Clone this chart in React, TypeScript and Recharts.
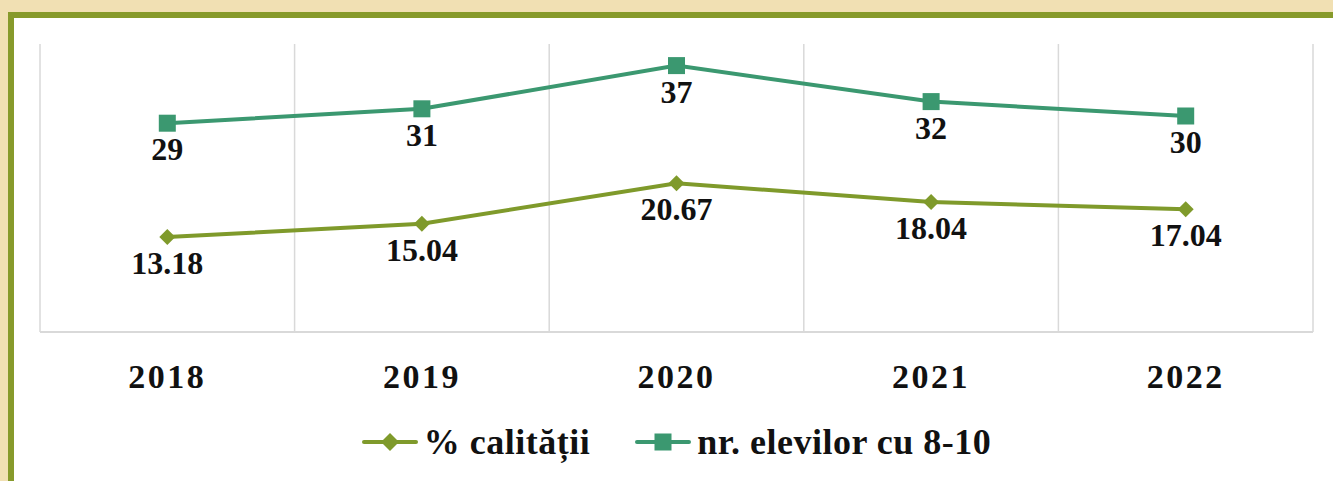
import { CartesianGrid, ComposedChart, Legend, Line, XAxis, YAxis } from "recharts";

const years = ["2018", "2019", "2020", "2021", "2022"];
const calitate = [13.18, 15.04, 20.67, 18.04, 17.04];
const elevi = [29, 31, 37, 32, 30];

const data = years.map((year, i) => ({ year, calitate: calitate[i], elevi: elevi[i] }));

const OLIVE = "#7f9a2b";
const TEAL = "#3b9870";
const FONT = "'Liberation Serif', 'Times New Roman', serif";

function Diamond({ cx, cy }: { cx?: number; cy?: number }) {
  if (cx == null || cy == null) return null;
  const r = 8;
  return <path d={`M${cx} ${cy - r}L${cx + r} ${cy}L${cx} ${cy + r}L${cx - r} ${cy}Z`} fill={OLIVE} />;
}

function Square({ cx, cy }: { cx?: number; cy?: number }) {
  if (cx == null || cy == null) return null;
  return <rect x={cx - 8.5} y={cy - 8.5} width={17} height={17} fill={TEAL} />;
}

function PointLabel(props: any) {
  const { x, y, value } = props;
  return (
    <text x={x} y={y + 26} textAnchor="middle" dominantBaseline="central" fontFamily={FONT} fontWeight="bold" fontSize={32} fill="#111">
      {value}
    </text>
  );
}

function YearTick(props: any) {
  const { x, y, payload } = props;
  return (
    <text x={x} y={y} dy={48} textAnchor="middle" fontFamily={FONT} fontWeight="bold" fontSize={34} letterSpacing={2.5} fill="#111">
      {payload.value}
    </text>
  );
}

function LegendItem({ color, kind, text }: { color: string; kind: "diamond" | "square"; text: string }) {
  return (
    <div style={{ display: "flex", alignItems: "center" }}>
      <svg width={56} height={20} style={{ marginRight: 6 }}>
        <line x1={2} y1={10} x2={54} y2={10} stroke={color} strokeWidth={4} strokeLinecap="round" />
        {kind === "diamond" ? (
          <path d="M28 1L37 10L28 19L19 10Z" fill={color} />
        ) : (
          <rect x={19.5} y={1.5} width={17} height={17} fill={color} />
        )}
      </svg>
      <span>{text}</span>
    </div>
  );
}

function LegendRow() {
  return (
    <div
      style={{
        display: "flex",
        justifyContent: "center",
        alignItems: "center",
        height: 50,
        gap: 45,
        fontFamily: FONT,
        fontWeight: "bold",
        fontSize: 36,
        letterSpacing: 0.5,
        color: "#111",
      }}
    >
      <LegendItem color={OLIVE} kind="diamond" text="% calității" />
      <LegendItem color={TEAL} kind="square" text="nr. elevilor cu 8-10" />
    </div>
  );
}

export default function App() {
  return (
    <div style={{ position: "fixed", left: 0, top: 0, width: 1333, height: 481, overflow: "hidden", background: "#f1e0b3" }}>
      <div
        style={{
          position: "absolute",
          left: 8,
          top: 12,
          width: 1400,
          height: 600,
          border: "6px solid #879a2b",
          background: "#fff",
        }}
      />
      <div style={{ position: "absolute", left: 0, top: 0 }}>
        <ComposedChart width={1333} height={481} data={data} margin={{ top: 44, right: 20, left: 40, bottom: 14 }}>
          <CartesianGrid
            horizontal={false}
            stroke="#d9d9d9"
            strokeWidth={1.5}
            verticalCoordinatesGenerator={({ offset }: any) =>
              [0, 1, 2, 3, 4, 5].map((i) => offset.left + (i * offset.width) / years.length)
            }
          />
          <XAxis
            dataKey="year"
            scale="band"
            height={85}
            axisLine={{ stroke: "#d9d9d9", strokeWidth: 2 }}
            tickLine={false}
            tick={<YearTick />}
            interval={0}
          />
          <YAxis hide domain={[0, 40]} />
          <Legend verticalAlign="bottom" content={<LegendRow />} />
          <Line
            dataKey="calitate"
            stroke={OLIVE}
            strokeWidth={4}
            dot={<Diamond />}
            activeDot={false}
            label={<PointLabel />}
            isAnimationActive={false}
          />
          <Line
            dataKey="elevi"
            stroke={TEAL}
            strokeWidth={4}
            dot={<Square />}
            activeDot={false}
            label={<PointLabel />}
            isAnimationActive={false}
          />
        </ComposedChart>
      </div>
    </div>
  );
}
